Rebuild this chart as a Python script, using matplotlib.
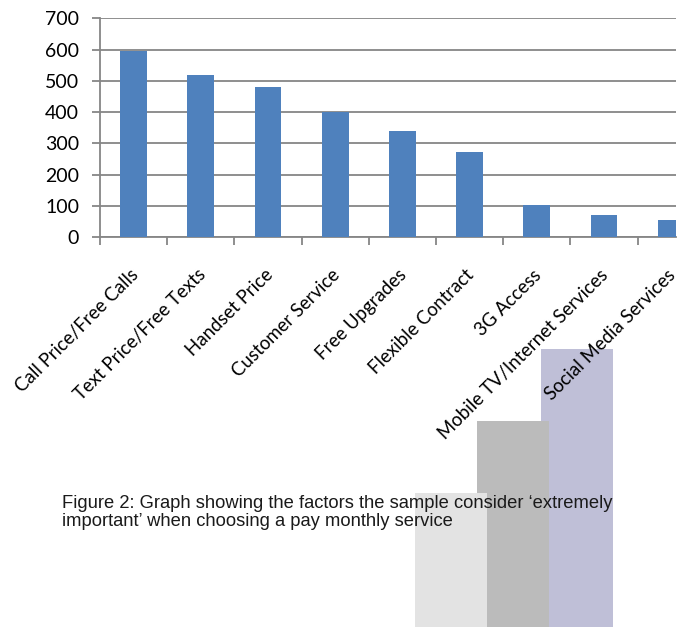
import numpy as np
import matplotlib
matplotlib.use("Agg")
import matplotlib.pyplot as plt
from matplotlib.patches import Rectangle

# factors rated 'extremely important' for a pay monthly service
factors = ["Call Price/Free Calls", "Text Price/Free Texts", "Handset Price",
           "Customer Service", "Free Upgrades", "Flexible Contract",
           "3G Access", "Mobile TV/Internet Services", "Social Media Services"]
counts = [595, 519, 480, 401, 339, 272, 102, 70, 54]
yticks = [0, 100, 200, 300, 400, 500, 600, 700]

caption = ("Figure 2: Graph showing the factors the sample consider \u2018extremely\n"
           "important\u2019 when choosing a pay monthly service")

W, H = 680, 627
fig = plt.figure(figsize=(W / 100, H / 100), dpi=100)
grey = "#868686"

# decorative blocks behind the caption (back to front)
for x0, x1, y0, c in [(541, 613, 349, "#bfbfd7"),
                      (477, 549, 421, "#bbbbbb"),
                      (415, 487, 493, "#e3e3e3")]:
    fig.add_artist(Rectangle((x0 / W, 0), (x1 - x0) / W, 1 - y0 / H,
                             transform=fig.transFigure, color=c, lw=0, zorder=0))

ax = fig.add_axes([100 / W, 1 - 237 / H, 576 / W, (237 - 18.3) / H])
ax.patch.set_alpha(0)
x = np.arange(len(factors))
ax.bar(x, counts, width=0.4, color="#4f81bd", zorder=3)

ax.set_yticks(yticks)
ax.set_yticklabels([str(v) for v in yticks], fontsize=14, family="Lato")
ax.yaxis.grid(True, color=grey, lw=1.3, zorder=1)
ax.set_axisbelow(True)

# category boundary ticks on the x axis
ax.set_xticks(np.arange(len(factors) + 1) - 0.5)
ax.set_xticklabels([])
ax.tick_params(axis="x", direction="out", length=6, width=1.3, color=grey)
ax.tick_params(axis="y", direction="out", length=6, width=1.3, color=grey, pad=9)

# the plot runs past the right edge, so the last category is cut off
ax.set_ylim(0, 700)
ax.set_xlim(-0.5, -0.5 + 576 / 67.2)

for s in ["top", "right"]:
    ax.spines[s].set_visible(False)
for s in ["left", "bottom"]:
    ax.spines[s].set_color(grey)
    ax.spines[s].set_linewidth(1.3)

for i, lab in enumerate(factors):
    ax.annotate(lab, xy=(i, 0), xycoords=("data", "axes fraction"),
                xytext=(-3, -21), textcoords="offset points",
                rotation=45, ha="right", va="top", rotation_mode="anchor",
                fontsize=13.4, family="Lato", annotation_clip=False, zorder=5)

fig.text(62 / W, 1 - 526 / H, caption, fontsize=13.2, family="Liberation Sans",
         color="#1a1a1a", va="baseline", linespacing=1.1, zorder=6)

fig.savefig("out.png", dpi=100)
